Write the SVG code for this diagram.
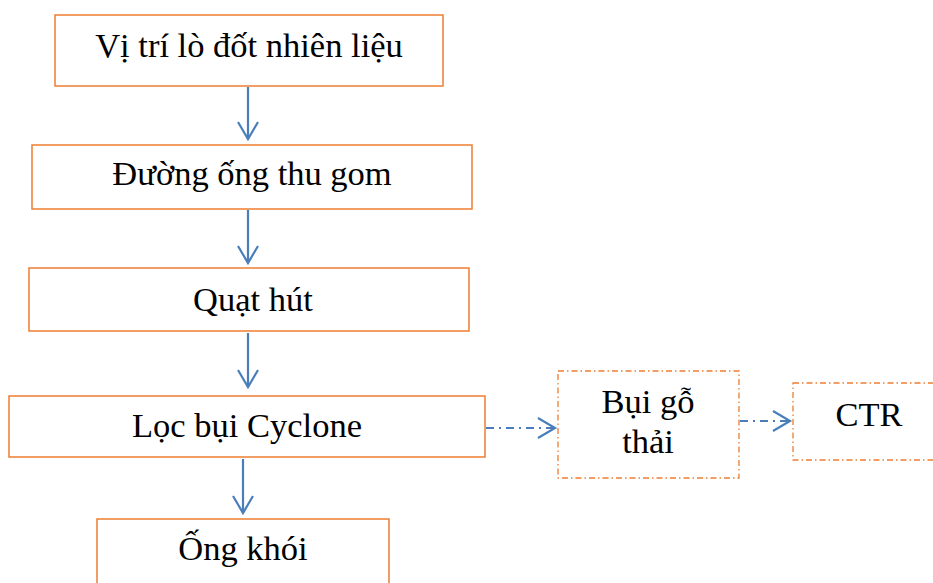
<svg xmlns="http://www.w3.org/2000/svg" width="933" height="583" viewBox="0 0 933 583">
<style>
.box{fill:#fff;stroke:#ED7D31;stroke-width:1.5}
.dbox{fill:#fff;stroke:#ED7D31;stroke-width:1.3;stroke-dasharray:6 3 1.5 3}
text{font-family:"Liberation Serif","Times New Roman",serif;font-size:34.5px;fill:#000;text-anchor:middle}
.ln{fill:none;stroke:#4A7EBB;stroke-width:2.2}
.dl{fill:none;stroke:#4A7EBB;stroke-width:2.2;stroke-dasharray:8 5 2 5}
.ah{fill:none;stroke:#4A7EBB;stroke-width:2.2;stroke-linejoin:miter}
</style>
<rect width="933" height="583" fill="#fff"/>
<g id="n1"><rect class="box" x="55" y="15" width="388" height="71"/><text x="249" y="57">Vị trí lò đốt nhiên liệu</text></g>
<g id="n2"><rect class="box" x="32" y="145" width="440" height="64"/><text x="252" y="185">Đường ống thu gom</text></g>
<g id="n3"><rect class="box" x="29" y="268" width="440" height="63"/><text x="253" y="311">Quạt hút</text></g>
<g id="n4"><rect class="box" x="9" y="396" width="476" height="61"/><text x="247" y="437">Lọc bụi Cyclone</text></g>
<g id="n5"><rect class="box" x="97" y="519" width="292" height="80"/><text x="243" y="560">Ống khói</text></g>
<g id="n6"><rect class="dbox" x="558" y="371" width="181" height="107"/><text x="648" y="413">Bụi gỗ</text><text x="648" y="453">thải</text></g>
<g id="n7"><rect class="dbox" x="793" y="383" width="160" height="77"/><text x="869" y="426">CTR</text></g>
<g id="connectors">
<line class="ln" x1="248" y1="87" x2="248" y2="139"/><polyline class="ah" points="238,122 248,139 258,122"/>
<line class="ln" x1="248" y1="210" x2="248" y2="263"/><polyline class="ah" points="238,246 248,263 258,246"/>
<line class="ln" x1="248" y1="333" x2="248" y2="387"/><polyline class="ah" points="238,370 248,387 258,370"/>
<line class="ln" x1="243" y1="459" x2="243" y2="513"/><polyline class="ah" points="233,496 243,513 253,496"/>
<line class="dl" x1="486" y1="428" x2="555" y2="428"/><polyline class="ah" points="538,418 555,428 538,438"/>
<line class="dl" x1="740" y1="421" x2="790" y2="421"/><polyline class="ah" points="773,411 790,421 773,431"/>
</g>
</svg>
